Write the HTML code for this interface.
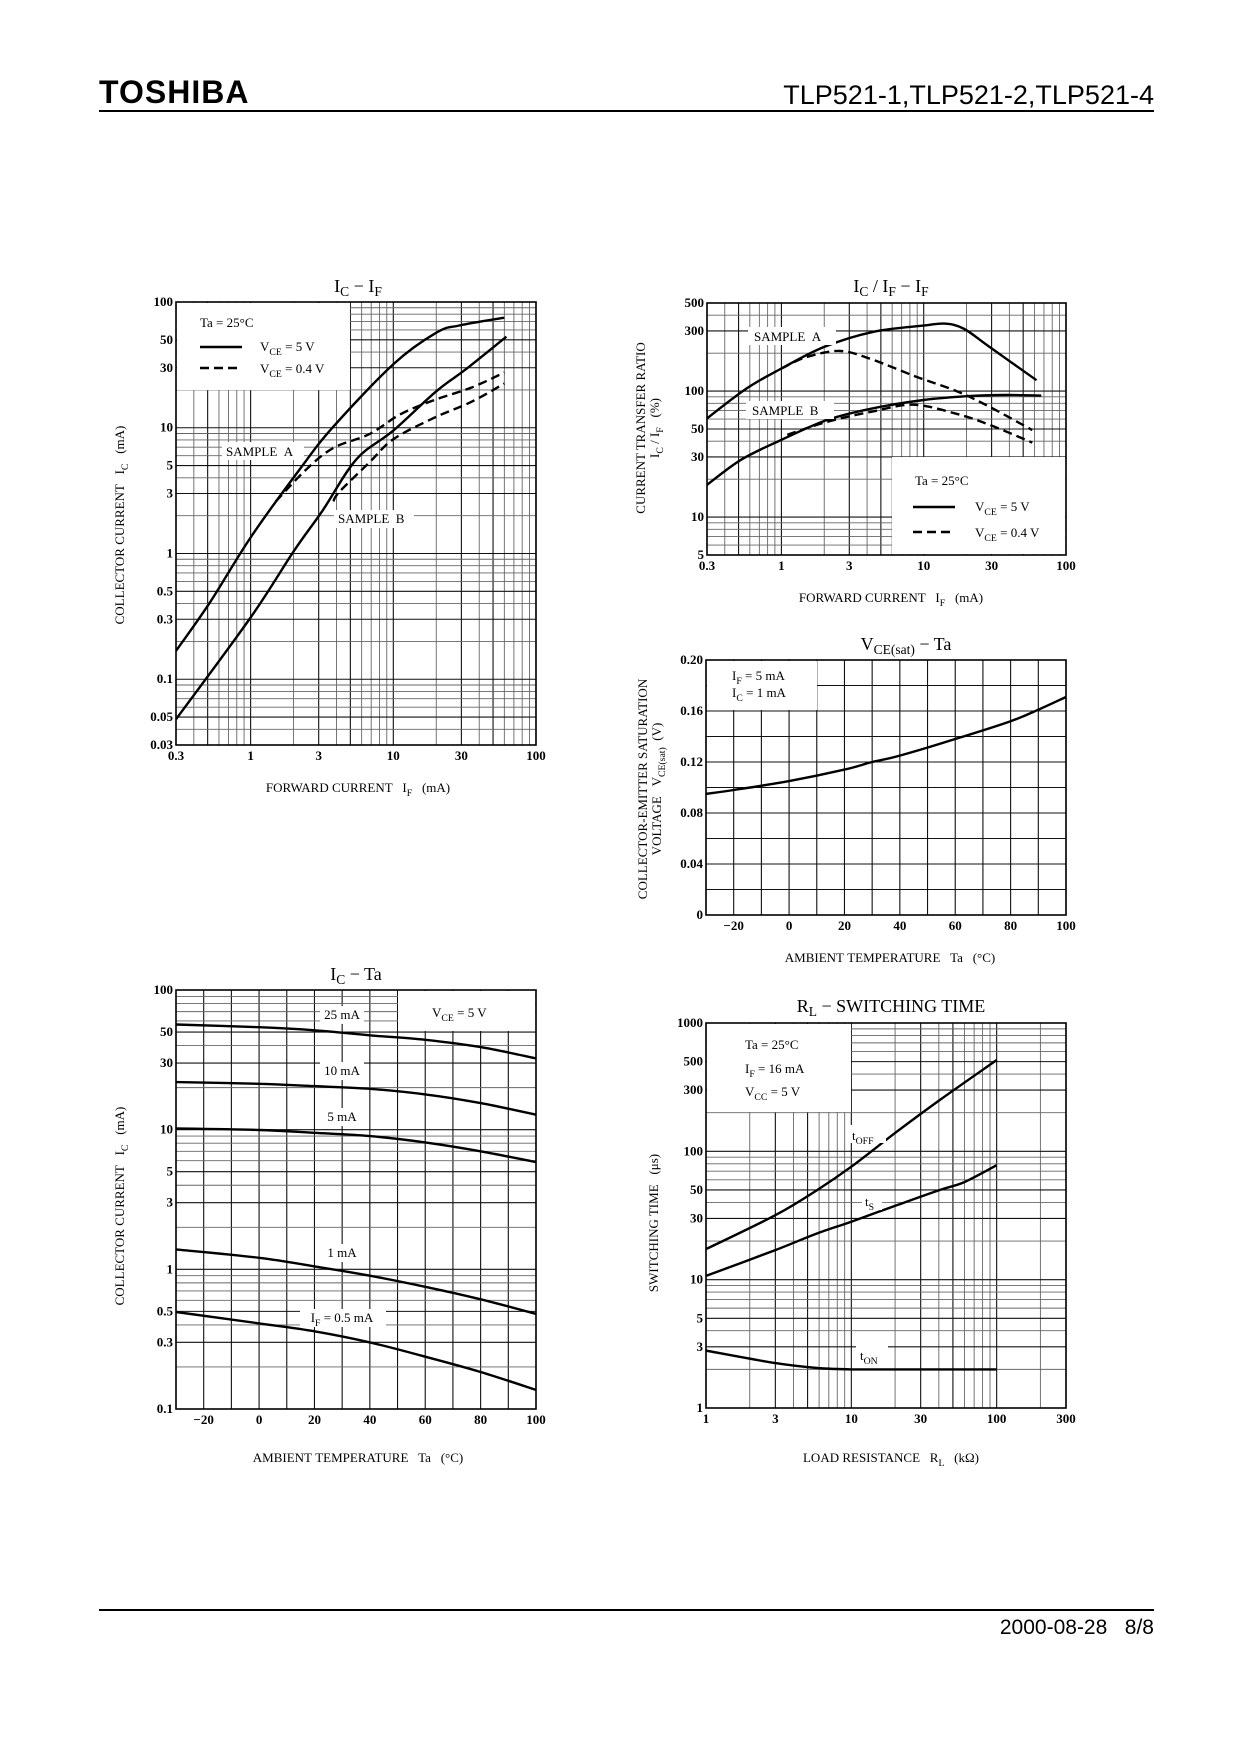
<!DOCTYPE html>
<html><head><meta charset="utf-8">
<style>
html,body{margin:0;padding:0;background:#fff;}
svg{display:block;}
text{font-family:"Liberation Serif",serif;fill:#000;}
.sans{font-family:"Liberation Sans",sans-serif;}
</style></head>
<body>
<svg id="page" width="1240" height="1754" viewBox="0 0 1240 1754" xmlns="http://www.w3.org/2000/svg">
  <text x="99" y="103" class="sans" font-size="32" font-weight="bold" letter-spacing="1">TOSHIBA</text>
  <text x="1154" y="104" class="sans" font-size="27" text-anchor="end">TLP521-1,TLP521-2,TLP521-4</text>
  <rect x="99" y="110" width="1055" height="2" fill="#000"/>
  <rect x="99" y="1609" width="1055" height="2" fill="#000"/>
  <text x="1154" y="1634" class="sans" font-size="21" text-anchor="end">2000-08-28&#160;&#160;&#160;8/8</text>
</svg>
<script>
// ---------- Chart 1: IC - IF ----------
const c1Ticks_x = [0.3, 1, 3, 10, 30, 100];
const c1Ticks_y = [0.03, 0.05, 0.1, 0.3, 0.5, 1, 3, 5, 10, 30, 50, 100];
const c1A5_if = [0.3, 0.52, 1, 2.2, 3.8, 10, 20, 29, 60];
const c1A5_ic = [0.168, 0.41, 1.34, 4.65, 10.2, 32, 57, 65, 75];
const c1B5_if = [0.3, 1, 2, 3.2, 5.5, 10, 20, 32, 62];
const c1B5_ic = [0.048, 0.31, 1.04, 2.2, 5.6, 9.5, 19.5, 29, 53];
const c1A04_if = [1.5, 2.45, 3.8, 6.8, 11.2, 19.3, 35, 60];
const c1A04_ic = [2.59, 4.65, 6.9, 8.9, 12.8, 16.6, 20.8, 27.5];
const c1B04_if = [3.8, 4.2, 6.8, 10, 19.3, 35, 60];
const c1B04_ic = [2.6, 3.1, 5.3, 8.1, 12, 16, 22.5];
// ---------- Chart 2: IC/IF - IF ----------
const c2Ticks_x = [0.3, 1, 3, 10, 30, 100];
const c2Ticks_y = [5, 10, 30, 50, 100, 300, 500];
const c2A5_if = [0.3, 0.57, 1, 2, 4.4, 10, 14, 19, 29, 62];
const c2A5_ctr = [60.7, 105, 151, 224, 295, 331, 343, 314, 224, 122];
const c2A04_if = [1, 1.5, 2.6, 4.4, 9, 17, 29, 58];
const c2A04_ctr = [151, 186, 208, 177, 129, 100, 75, 49];
const c2B5_if = [0.3, 0.52, 1, 2.1, 4.4, 10, 20, 38, 67];
const c2B5_ctr = [18, 28.5, 41, 59, 73, 85, 91, 93, 92];
const c2B04_if = [1.1, 2.1, 4.4, 8.5, 17, 29, 58];
const c2B04_ctr = [45, 57, 69, 78, 66, 54, 39];
// ---------- Chart 3: VCE(sat) - Ta ----------
const c3Ticks_x = [-20, 0, 20, 40, 60, 80, 100];
const c3Ticks_y = [0, 0.04, 0.08, 0.12, 0.16, 0.20];
const c3Ta = [-30, -20, 0, 20, 30, 40, 60, 80, 90, 100];
const c3Vsat = [0.095, 0.098, 0.105, 0.114, 0.12, 0.125, 0.138, 0.152, 0.161, 0.171];
// ---------- Chart 4: IC - Ta ----------
const c4Ticks_x = [-20, 0, 20, 40, 60, 80, 100];
const c4Ticks_y = [0.1, 0.3, 0.5, 1, 3, 5, 10, 30, 50, 100];
const c4Ta = [-30, 0, 20, 40, 60, 80, 100];
const c4Ic25 = [56.6, 54.2, 51.5, 47.4, 44, 39, 32.4];
const c4Ic10 = [21.9, 21.3, 20.5, 19.6, 17.9, 15.5, 12.8];
const c4Ic5 = [10.2, 9.95, 9.5, 9.0, 8.1, 7.0, 5.86];
const c4Ic1 = [1.39, 1.21, 1.05, 0.90, 0.75, 0.61, 0.48];
const c4Ic05 = [0.495, 0.41, 0.36, 0.30, 0.237, 0.184, 0.137];
// ---------- Chart 5: RL - switching time ----------
const c5Ticks_x = [1, 3, 10, 30, 100, 300];
const c5Ticks_y = [1, 3, 5, 10, 30, 50, 100, 300, 500, 1000];
const c5RL = [1, 3, 5.8, 10, 20.5, 40.6, 100];
const c5Toff = [17.3, 31.8, 49.8, 75.9, 142, 251, 515];
const c5RLs = [1, 3, 5.8, 10, 20.5, 40.6, 60, 100];
const c5Ts = [10.7, 17, 22.9, 28.3, 38, 50, 57.6, 78];
const c5RLon = [1, 3, 5.8, 10, 30, 100];
const c5Ton = [2.8, 2.24, 2.05, 2.0, 2.0, 2.0];

const NS = 'http://www.w3.org/2000/svg';
const page = document.getElementById('page');
function mk(tag, attrs, parent) {
  const e = document.createElementNS(NS, tag);
  for (const k in attrs) e.setAttribute(k, attrs[k]);
  (parent || page).appendChild(e);
  return e;
}
function logS(min, max, p0, p1) { return v => p0 + (Math.log10(v) - Math.log10(min)) / (Math.log10(max) - Math.log10(min)) * (p1 - p0); }
function linS(min, max, p0, p1) { return v => p0 + (v - min) / (max - min) * (p1 - p0); }
function logGridVals(min, max) {
  const out = [];
  for (let k = Math.floor(Math.log10(min)); k <= Math.ceil(Math.log10(max)); k++) {
    for (let n = 1; n <= 9; n++) {
      const v = +(n * Math.pow(10, k)).toPrecision(6);
      if (v >= min * 0.9999 && v <= max * 1.0001) out.push({v: v, major: n === 1 || n === 3 || n === 5});
    }
  }
  return out;
}
function linGridVals(min, max, step) {
  const out = [];
  for (let v = min; v <= max + 1e-9; v += step) out.push({v: +v.toFixed(6), major: true});
  return out;
}
function smoothPath(pts) {
  let d = 'M' + pts[0][0].toFixed(1) + ',' + pts[0][1].toFixed(1);
  for (let i = 0; i < pts.length - 1; i++) {
    const p0 = pts[i - 1] || pts[i], p1 = pts[i], p2 = pts[i + 1], p3 = pts[i + 2] || p2;
    const c1x = p1[0] + (p2[0] - p0[0]) / 6, c1y = p1[1] + (p2[1] - p0[1]) / 6;
    const c2x = p2[0] - (p3[0] - p1[0]) / 6, c2y = p2[1] - (p3[1] - p1[1]) / 6;
    d += ' C' + c1x.toFixed(1) + ',' + c1y.toFixed(1) + ' ' + c2x.toFixed(1) + ',' + c2y.toFixed(1) + ' ' + p2[0].toFixed(1) + ',' + p2[1].toFixed(1);
  }
  return d;
}
function fmtTick(v) { return v < 0 ? '\u2212' + Math.abs(v) : (v === 0.2 ? '0.20' : String(v)); }

function buildChart(cfg) {
  const g = mk('g', {});
  
  
  const L = cfg.box[0], T = cfg.box[1], R = cfg.box[2], B = cfg.box[3];
  const sx = cfg.xlog ? logS(cfg.xmin, cfg.xmax, L, R) : linS(cfg.xmin, cfg.xmax, L, R);
  const sy = cfg.ylog ? logS(cfg.ymin, cfg.ymax, B, T) : linS(cfg.ymin, cfg.ymax, B, T);
  const grid = mk('g', {}, g);
  
  
  const xv = cfg.xlog ? logGridVals(cfg.xmin, cfg.xmax) : linGridVals(cfg.xmin, cfg.xmax, cfg.xstep);
  xv.forEach(o => {
    const x = sx(o.v);
    mk('line', {x1: x, x2: x, y1: T, y2: B, stroke: o.major ? '#111' : '#666', 'stroke-width': o.major ? 1.1 : 0.9}, grid);
  });
  const yv = cfg.ylog ? logGridVals(cfg.ymin, cfg.ymax) : linGridVals(cfg.ymin, cfg.ymax, cfg.ystep);
  yv.forEach(o => {
    const y = sy(o.v);
    mk('line', {x1: L, x2: R, y1: y, y2: y, stroke: o.major ? '#111' : '#666', 'stroke-width': o.major ? 1.1 : 0.9}, grid);
  });
  (cfg.boxes || []).forEach(b => {
    const r = mk('rect', {x: b[0], y: b[1], width: b[2] - b[0], height: b[3] - b[1], fill: '#fff'}, g);
    
    
  });
  const frame = mk('rect', {x: L, y: T, width: R - L, height: B - T, fill: 'none', stroke: '#000', 'stroke-width': 1.6}, g);
  
  
  cfg.xt.forEach(v => {
    const t = mk('text', {x: sx(v), y: B + 15, 'font-size': 13, 'font-weight': 'bold', 'text-anchor': 'middle'}, g);
    t.textContent = fmtTick(v);
    
    
  });
  cfg.yt.forEach(v => {
    const t = mk('text', {x: L - 3, y: sy(v) + 4, 'font-size': 13, 'font-weight': 'bold', 'text-anchor': 'end'}, g);
    t.textContent = fmtTick(v);
    
    
  });
  const cp = mk('clipPath', {id: cfg.name + '-clip'}, g);
  mk('rect', {x: L, y: T, width: R - L, height: B - T}, cp);
  cfg.series.forEach(s => {
    const pts = s.x.map((v, i) => [sx(v), sy(s.y[i])]);
    const p = mk('path', {d: smoothPath(pts), fill: 'none', stroke: '#000', 'stroke-width': 2.4, 'clip-path': 'url(#' + cfg.name + '-clip)'}, g);
    if (s.dash) p.setAttribute('stroke-dasharray', '9 5');
    
    
  });
  (cfg.keys || []).forEach(k => {
    const ln = mk('line', {x1: k.x1, x2: k.x2, y1: k.y, y2: k.y, stroke: '#000', 'stroke-width': 2.4}, g);
    if (k.dash) ln.setAttribute('stroke-dasharray', '9 5');
    
    
  });
  (cfg.labels || []).forEach(l => {
    if (l.bg) mk('rect', {x: l.bg[0], y: l.bg[1], width: l.bg[2], height: l.bg[3], fill: '#fff'}, g);
    const t = mk('text', {x: l.x, y: l.y, 'font-size': l.size || 13, 'text-anchor': l.anchor || 'start'}, g);
    t.innerHTML = l.html;
    
    
  });
  return g;
}
function sub(s) { return '<tspan font-size="0.75em" dy="4">' + s + '</tspan><tspan dy="-4"> </tspan>'; }

buildChart({
  name: 'chart-ic-if', box: [176, 302, 536, 745], xlog: true, ylog: true,
  xmin: 0.3, xmax: 100, ymin: 0.03, ymax: 100, xt: c1Ticks_x, yt: c1Ticks_y,
  boxes: [[177, 303, 350, 390]],
  series: [
    {name: 'sample-a-vce5-line', x: c1A5_if, y: c1A5_ic},
    {name: 'sample-b-vce5-line', x: c1B5_if, y: c1B5_ic},
    {name: 'sample-a-vce04-line', x: c1A04_if, y: c1A04_ic, dash: true},
    {name: 'sample-b-vce04-line', x: c1B04_if, y: c1B04_ic, dash: true}
  ],
  keys: [{x1: 200, x2: 242, y: 347}, {x1: 200, x2: 242, y: 368, dash: true}],
  labels: [
    {name: 'chart-title', x: 358, y: 292, size: 18, anchor: 'middle', html: 'I' + sub('C') + '\u2212  I' + sub('F')},
    {name: 'x-axis-title', x: 358, y: 792, size: 13, anchor: 'middle', html: 'FORWARD CURRENT&#160;&#160;&#160;I' + sub('F') + '&#160;&#160;(mA)'},
    {name: 'legend-ta', x: 200, y: 327, html: 'Ta = 25°C'},
    {name: 'legend-vce5', x: 260, y: 351, html: 'V' + sub('CE') + '= 5 V'},
    {name: 'legend-vce04', x: 260, y: 373, html: 'V' + sub('CE') + '= 0.4 V'},
    {name: 'sample-a-label', x: 226, y: 456, bg: [222, 442, 82, 18], html: 'SAMPLE&#160;&#160;A'},
    {name: 'sample-b-label', x: 338, y: 523, bg: [334, 510, 80, 18], html: 'SAMPLE&#160;&#160;B'}
  ]
});
buildChart({
  name: 'chart-ctr-if', box: [707, 303, 1066, 555], xlog: true, ylog: true,
  xmin: 0.3, xmax: 100, ymin: 5, ymax: 500, xt: c2Ticks_x, yt: c2Ticks_y,
  boxes: [[892, 457, 1065, 554]],
  series: [
    {name: 'sample-a-vce5-line', x: c2A5_if, y: c2A5_ctr},
    {name: 'sample-a-vce04-line', x: c2A04_if, y: c2A04_ctr, dash: true},
    {name: 'sample-b-vce5-line', x: c2B5_if, y: c2B5_ctr},
    {name: 'sample-b-vce04-line', x: c2B04_if, y: c2B04_ctr, dash: true}
  ],
  keys: [{x1: 913, x2: 955, y: 507}, {x1: 913, x2: 955, y: 532, dash: true}],
  labels: [
    {name: 'chart-title', x: 891, y: 292, size: 18, anchor: 'middle', html: 'I' + sub('C') + '/ I' + sub('F') + '\u2212  I' + sub('F')},
    {name: 'x-axis-title', x: 891, y: 602, size: 13, anchor: 'middle', html: 'FORWARD CURRENT&#160;&#160;&#160;I' + sub('F') + '&#160;&#160;(mA)'},
    {name: 'sample-a-label', x: 754, y: 341, bg: [748, 327, 88, 18], html: 'SAMPLE&#160;&#160;A'},
    {name: 'sample-b-label', x: 752, y: 415, bg: [746, 401, 88, 18], html: 'SAMPLE&#160;&#160;B'},
    {name: 'legend-ta', x: 915, y: 485, html: 'Ta = 25°C'},
    {name: 'legend-vce5', x: 975, y: 511, html: 'V' + sub('CE') + '= 5 V'},
    {name: 'legend-vce04', x: 975, y: 537, html: 'V' + sub('CE') + '= 0.4 V'}
  ]
});
buildChart({
  name: 'chart-vcesat-ta', box: [706, 660, 1066, 915], xlog: false, ylog: false,
  xmin: -30, xmax: 100, xstep: 10, ymin: 0, ymax: 0.2, ystep: 0.02, xt: c3Ticks_x, yt: c3Ticks_y,
  boxes: [[707, 661, 817, 710]],
  series: [{name: 'vcesat-line', x: c3Ta, y: c3Vsat}],
  labels: [
    {name: 'chart-title', x: 906, y: 650, size: 18, anchor: 'middle', html: 'V' + sub('CE(sat)') + '\u2212  Ta'},
    {name: 'x-axis-title', x: 890, y: 962, size: 13, anchor: 'middle', html: 'AMBIENT&#160;TEMPERATURE&#160;&#160;&#160;Ta&#160;&#160;&#160;(°C)'},
    {name: 'legend-if', x: 732, y: 680, html: 'I' + sub('F') + '= 5 mA'},
    {name: 'legend-ic', x: 732, y: 697, html: 'I' + sub('C') + '= 1 mA'}
  ]
});
buildChart({
  name: 'chart-ic-ta', box: [176, 990, 536, 1409], xlog: false, ylog: true,
  xmin: -30, xmax: 100, xstep: 10, ymin: 0.1, ymax: 100, xt: c4Ticks_x, yt: c4Ticks_y,
  boxes: [[398, 991, 535, 1031]],
  series: [
    {name: 'if-25ma-line', x: c4Ta, y: c4Ic25},
    {name: 'if-10ma-line', x: c4Ta, y: c4Ic10},
    {name: 'if-5ma-line', x: c4Ta, y: c4Ic5},
    {name: 'if-1ma-line', x: c4Ta, y: c4Ic1},
    {name: 'if-0p5ma-line', x: c4Ta, y: c4Ic05}
  ],
  labels: [
    {name: 'chart-title', x: 356, y: 980, size: 18, anchor: 'middle', html: 'I' + sub('C') + '\u2212  Ta'},
    {name: 'x-axis-title', x: 358, y: 1462, size: 13, anchor: 'middle', html: 'AMBIENT&#160;TEMPERATURE&#160;&#160;&#160;Ta&#160;&#160;&#160;(°C)'},
    {name: 'legend-vce', x: 432, y: 1017, html: 'V' + sub('CE') + '= 5 V'},
    {name: 'label-25ma', x: 342, y: 1019, anchor: 'middle', bg: [320, 1006, 44, 18], html: '25 mA'},
    {name: 'label-10ma', x: 342, y: 1075, anchor: 'middle', bg: [320, 1062, 44, 18], html: '10 mA'},
    {name: 'label-5ma', x: 342, y: 1121, anchor: 'middle', bg: [322, 1108, 40, 18], html: '5 mA'},
    {name: 'label-1ma', x: 342, y: 1257, anchor: 'middle', bg: [322, 1244, 40, 18], html: '1 mA'},
    {name: 'label-0p5ma', x: 342, y: 1322, anchor: 'middle', bg: [300, 1309, 86, 18], html: 'I' + sub('F') + '= 0.5 mA'}
  ]
});
buildChart({
  name: 'chart-switching-time', box: [706, 1023, 1066, 1408], xlog: true, ylog: true,
  xmin: 1, xmax: 300, ymin: 1, ymax: 1000, xt: c5Ticks_x, yt: c5Ticks_y,
  boxes: [[707, 1024, 851, 1112]],
  series: [
    {name: 'toff-line', x: c5RL, y: c5Toff},
    {name: 'ts-line', x: c5RLs, y: c5Ts},
    {name: 'ton-line', x: c5RLon, y: c5Ton}
  ],
  labels: [
    {name: 'chart-title', x: 891, y: 1012, size: 18, anchor: 'middle', html: 'R' + sub('L') + '\u2212  SWITCHING TIME'},
    {name: 'x-axis-title', x: 891, y: 1462, size: 13, anchor: 'middle', html: 'LOAD RESISTANCE&#160;&#160;&#160;R' + sub('L') + '&#160;&#160;(kΩ)'},
    {name: 'legend-ta', x: 745, y: 1049, html: 'Ta = 25°C'},
    {name: 'legend-if', x: 745, y: 1073, html: 'I' + sub('F') + '= 16 mA'},
    {name: 'legend-vcc', x: 745, y: 1096, html: 'V' + sub('CC') + '= 5 V'},
    {name: 'toff-label', x: 852, y: 1140, bg: [850, 1125, 36, 18], html: 't' + sub('OFF')},
    {name: 'ts-label', x: 865, y: 1206, bg: [862, 1192, 20, 18], html: 't' + sub('S')},
    {name: 'ton-label', x: 860, y: 1360, bg: [856, 1346, 32, 18], html: 't' + sub('ON')}
  ]
});
const yTitles = [
  {x: 124, y: 525, lines: ['COLLECTOR CURRENT&#160;&#160;&#160;I' + sub('C') + '&#160;&#160;(mA)']},
  {x: 645, y: 428, lines: ['CURRENT TRANSFER RATIO', 'I' + sub('C') + '/ I' + sub('F') + '&#160;&#160;(%)']},
  {x: 647, y: 789, lines: ['COLLECTOR-EMITTER SATURATION', 'VOLTAGE&#160;&#160;&#160;V' + sub('CE(sat)') + '&#160;(V)']},
  {x: 124, y: 1206, lines: ['COLLECTOR CURRENT&#160;&#160;&#160;I' + sub('C') + '&#160;&#160;(mA)']},
  {x: 658, y: 1223, lines: ['SWITCHING TIME&#160;&#160;&#160;(μs)']}
];
yTitles.forEach(t => {
  t.lines.forEach((ln, i) => {
    const e = mk('text', {x: 0, y: 0, 'font-size': 13, 'text-anchor': 'middle', transform: 'translate(' + (t.x + i * 14) + ',' + t.y + ') rotate(-90)'});
    e.innerHTML = ln;
    
    
  });
});
</script>
</body></html>
